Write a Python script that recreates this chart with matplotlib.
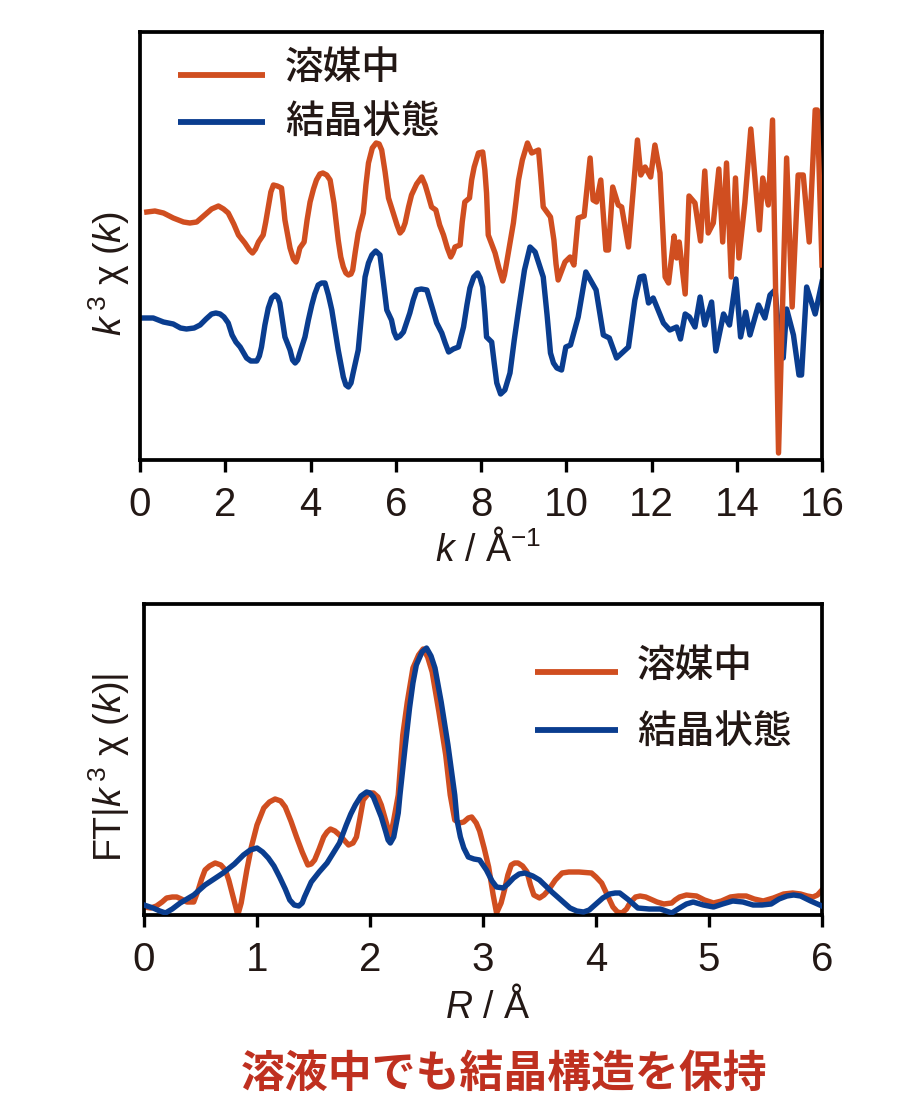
import matplotlib
matplotlib.use("Agg")
import matplotlib.pyplot as plt
from matplotlib.lines import Line2D

plt.rcParams['font.family'] = ['Liberation Sans', 'DejaVu Sans']
plt.rcParams['mathtext.fontset'] = 'custom'
plt.rcParams['mathtext.rm'] = 'Liberation Sans'
plt.rcParams['mathtext.it'] = 'Liberation Sans:italic'
plt.rcParams['mathtext.default'] = 'regular'

# ---- data (arbitrary intensity units) ----
k_solution = [0.16,0.35,0.55,0.78,1.02,1.17,1.33,1.52,1.68,1.84,1.96,2.07,2.20,2.31,2.46,2.57,2.64,2.71,2.78,2.89,
    2.95,3.01,3.07,3.13,3.22,3.32,3.36,3.40,3.52,3.60,3.66,3.70,3.75,3.85,3.92,3.99,4.07,4.14,4.22,4.29,
    4.38,4.46,4.55,4.65,4.71,4.77,4.83,4.89,4.95,4.99,5.05,5.12,5.24,5.30,5.36,5.45,5.54,5.61,5.67,5.75,
    5.83,5.94,6.03,6.10,6.16,6.22,6.30,6.37,6.49,6.61,6.69,6.76,6.84,6.94,7.03,7.12,7.21,7.29,7.34,7.39,
    7.51,7.56,7.62,7.73,7.78,7.84,7.94,8.04,8.09,8.13,8.17,8.33,8.42,8.51,8.55,8.60,8.76,8.82,8.88,8.97,
    9.09,9.19,9.35,9.40,9.46,9.63,9.71,9.76,9.81,9.97,10.09,10.18,10.28,10.42,10.56,10.63,10.71,10.81,10.93,10.99,
    11.09,11.22,11.30,11.46,11.67,11.75,11.85,11.98,12.08,12.20,12.32,12.40,12.53,12.59,12.65,12.79,12.88,13.02,13.15,13.25,
    13.33,13.45,13.58,13.67,13.76,13.87,13.97,14.05,14.19,14.33,14.53,14.61,14.74,14.84,14.98,15.17,15.30,15.44,15.56,15.70,
    15.84,15.89,16.0]
chi_solution = [248,249,247,242,238,237,238,245,251,254,251,247,236,225,217,210,207,211,218,225,
    238,253,268,275,274,272,257,240,212,201,198,203,212,218,240,258,271,280,286,287,
    285,280,257,220,203,193,187,185,186,190,208,227,247,275,297,312,317,316,310,288,
    262,247,235,227,230,237,253,265,276,283,275,265,253,250,235,225,212,203,207,213,
    215,238,258,262,280,293,307,308,290,267,225,207,192,179,185,197,237,258,280,300,
    317,307,310,285,253,243,220,196,180,198,203,195,242,244,302,260,258,280,210,210,
    273,255,253,213,320,285,293,283,315,287,183,177,224,202,218,166,264,257,219,289,
    227,237,291,218,297,183,282,202,257,331,230,282,255,340,7,302,153,285,285,218,
    350,350,195]

k_crystal = [0.04,0.31,0.55,0.78,0.95,1.09,1.27,1.41,1.55,1.68,1.78,1.88,1.97,2.07,2.16,2.25,2.35,2.50,2.60,2.74,
    2.80,2.85,2.93,3.01,3.09,3.17,3.23,3.28,3.34,3.40,3.52,3.58,3.64,3.70,3.75,3.87,3.95,4.03,4.10,4.18,
    4.26,4.34,4.42,4.50,4.65,4.77,4.83,4.89,4.95,5.00,5.12,5.20,5.28,5.36,5.44,5.53,5.63,5.71,5.79,5.90,
    5.96,6.02,6.10,6.18,6.33,6.41,6.49,6.60,6.73,6.85,6.96,7.08,7.16,7.24,7.35,7.47,7.59,7.67,7.74,7.83,
    7.92,7.98,8.04,8.09,8.13,8.25,8.31,8.37,8.46,8.56,8.68,8.78,8.88,9.02,9.15,9.27,9.46,9.55,9.63,9.70,
    9.78,9.89,9.99,10.10,10.28,10.46,10.70,10.87,11.01,11.18,11.46,11.61,11.73,11.82,11.93,12.04,12.28,12.43,12.59,12.68,
    12.79,12.89,13.02,13.14,13.25,13.41,13.51,13.69,13.83,13.98,14.09,14.21,14.31,14.51,14.66,14.78,14.90,15.02,15.09,15.17,
    15.33,15.46,15.52,15.64,15.84,16.0]
chi_crystal = [142,142,138,136,132,131,132,135,141,146,147,146,143,137,125,118,113,102,99,99,
    104,113,135,152,162,165,163,157,140,123,110,100,97,100,107,123,140,155,166,175,
    177,177,165,150,110,83,75,73,77,87,110,147,183,197,205,209,205,178,150,140,
    128,122,124,128,147,160,170,171,170,153,137,127,117,108,111,113,133,155,172,183,
    187,182,173,148,123,118,97,77,66,70,87,120,150,190,213,208,183,145,107,97,
    92,90,113,115,143,188,170,125,122,102,113,160,183,184,157,162,137,130,133,121,
    146,143,133,163,135,158,109,146,135,181,123,148,125,155,142,165,170,110,102,151,
    125,85,85,173,146,178]

r_solution = [0,0.06,0.11,0.16,0.20,0.25,0.29,0.33,0.38,0.44,0.48,0.51,0.54,0.58,0.63,0.68,0.72,0.75,0.78,0.83,
    0.86,0.91,0.95,1.00,1.06,1.11,1.16,1.21,1.25,1.30,1.35,1.40,1.45,1.48,1.51,1.55,1.59,1.62,1.65,1.69,
    1.73,1.77,1.81,1.85,1.88,1.91,1.94,1.99,2.03,2.07,2.10,2.13,2.16,2.18,2.21,2.25,2.29,2.33,2.38,2.43,
    2.47,2.51,2.55,2.61,2.67,2.71,2.75,2.79,2.83,2.87,2.90,2.94,2.97,3.01,3.05,3.09,3.12,3.16,3.19,3.22,
    3.25,3.28,3.31,3.35,3.39,3.42,3.45,3.50,3.54,3.58,3.64,3.70,3.76,3.85,3.96,4.00,4.05,4.10,4.15,4.19,
    4.23,4.27,4.30,4.35,4.39,4.44,4.48,4.54,4.60,4.67,4.70,4.74,4.80,4.89,4.96,5.04,5.11,5.19,5.26,5.33,
    5.40,5.48,5.57,5.66,5.74,5.81,5.87,5.92,5.96,6.0]
ft_solution = [8,7,9,13,17,18,18,16,13,13,25,36,45,49,52,50,45,35,22,0,
    12,45,68,90,107,113,116,114,108,94,78,63,50,51,55,66,78,83,86,84,
    80,75,70,72,78,96,115,122,122,118,110,98,86,78,95,120,180,213,247,260,
    266,258,243,203,160,120,95,92,93,97,98,92,84,67,48,20,2,12,25,40,
    50,52,52,49,43,30,20,17,20,25,35,42,43,43,42,38,32,20,8,3,
    2,6,12,18,19,18,16,13,11,12,15,18,20,19,15,12,14,18,19,19,
    16,14,17,21,22,21,19,18,20,25]

r_crystal = [0,0.08,0.14,0.19,0.25,0.32,0.44,0.54,0.70,0.80,0.88,0.94,1.00,1.05,1.10,1.15,1.20,1.25,1.29,1.33,
    1.37,1.40,1.42,1.48,1.55,1.62,1.73,1.79,1.83,1.87,1.92,1.97,2.00,2.03,2.10,2.14,2.16,2.18,2.21,2.25,
    2.265,2.31,2.35,2.38,2.41,2.46,2.50,2.54,2.575,2.63,2.69,2.75,2.77,2.80,2.83,2.87,2.92,2.97,3.03,3.08,
    3.12,3.18,3.22,3.27,3.32,3.37,3.44,3.50,3.61,3.70,3.77,3.83,3.89,3.94,3.99,4.06,4.12,4.17,4.21,4.29,
    4.37,4.47,4.57,4.67,4.74,4.80,4.86,4.95,5.04,5.12,5.21,5.30,5.39,5.47,5.55,5.62,5.69,5.75,5.81,5.90,
    6.0]
ft_crystal = [10,7,4,2,6,12,20,30,42,51,60,65,67,63,57,49,38,26,15,10,
    9,12,18,33,43,52,72,90,101,110,119,123,122,118,98,83,75,72,78,102,
    120,167,207,232,250,263,267,259,247,213,170,120,95,78,67,58,56,55,45,34,
    28,27,31,37,41,42,39,35,23,14,7,4,3,5,10,17,21,22,22,15,
    7,6,6,2,7,11,13,10,8,11,14,13,10,10,11,16,19,20,19,14,
    9]

k_ticks = [0, 2, 4, 6, 8, 10, 12, 14, 16]
r_ticks = [0, 1, 2, 3, 4, 5, 6]
series_names = ['溶媒中', '結晶状態']
caption = '溶液中でも結晶構造を保持'

ORANGE = '#D04E20'
BLUE = '#0A3D8F'
INK = '#231815'
RED = '#BF3020'
CJK = ['Noto Sans CJK JP', 'DejaVu Sans']
W, H = 910, 1110
LW = 3.9

def box(l, t, r, b):
    return [l / W, 1 - b / H, (r - l) / W, (b - t) / H]

def fx(x):
    return x / W

def fy(y):
    return 1 - y / H

fig = plt.figure(figsize=(W / 100, H / 100), dpi=100, facecolor='white')
ax1 = fig.add_axes(box(140, 32, 822, 460))
ax2 = fig.add_axes(box(144, 604, 822, 915))

ax1.plot(k_crystal, chi_crystal, color=BLUE, lw=LW, solid_joinstyle='round', zorder=2)
ax1.plot(k_solution, chi_solution, color=ORANGE, lw=LW, solid_joinstyle='round', zorder=3)
ax1.set_xlim(0, 16)
ax1.set_ylim(0, 428)
ax1.set_xticks(k_ticks)

ax2.plot(r_solution, ft_solution, color=ORANGE, lw=LW, solid_joinstyle='round', zorder=2)
ax2.plot(r_crystal, ft_crystal, color=BLUE, lw=LW, solid_joinstyle='round', zorder=3)
ax2.set_xlim(0, 6)
ax2.set_ylim(0, 311)
ax2.set_xticks(r_ticks)

for ax in (ax1, ax2):
    ax.set_yticks([])
    ax.tick_params(axis='x', direction='out', length=8.5, width=2.4, pad=10.5,
                   labelsize=29, labelcolor=INK, color='black')
    for s in ax.spines.values():
        s.set_linewidth(2.7)
        s.set_color('black')

# axis titles
fig.text(fx(488), fy(549), '$\\mathit{k}$ / Å$^{-1}$', fontsize=27, color=INK, ha='center', va='center')
fig.text(fx(488), fy(1006), '$\\mathit{R}$ / Å', fontsize=27, color=INK, ha='center', va='center')
fig.text(fx(109), fy(274), '$\\mathit{k}^{\\,3}$ χ $(\\mathit{k})$', fontsize=27, color=INK,
         rotation=90, ha='center', va='center')
fig.text(fx(109), fy(768), 'FT|$\\mathit{k}^{\\,3}$ χ $(\\mathit{k})$|', fontsize=27, color=INK,
         rotation=90, ha='center', va='center')

# legends
legend_rows = [
    (178, 265, 75, 285, 68, ORANGE, series_names[0]),
    (178, 265, 122, 285, 122, BLUE, series_names[1]),
    (535, 618, 672, 637, 666, ORANGE, series_names[0]),
    (535, 618, 730, 637, 732, BLUE, series_names[1]),
]
for x0, x1, yl, xt, yt, col, name in legend_rows:
    fig.add_artist(Line2D([fx(x0), fx(x1)], [fy(yl), fy(yl)], color=col, lw=4.2,
                          solid_capstyle='butt', transform=fig.transFigure))
    fig.text(fx(xt), fy(yt), name, fontsize=27.8, color=INK, family=CJK, weight='medium',
             ha='left', va='center')

fig.text(fx(504), fy(1074), caption, fontsize=31.6, color=RED, family=CJK, weight='bold',
         ha='center', va='center')

fig.savefig('out.png', dpi=100, facecolor='white')
